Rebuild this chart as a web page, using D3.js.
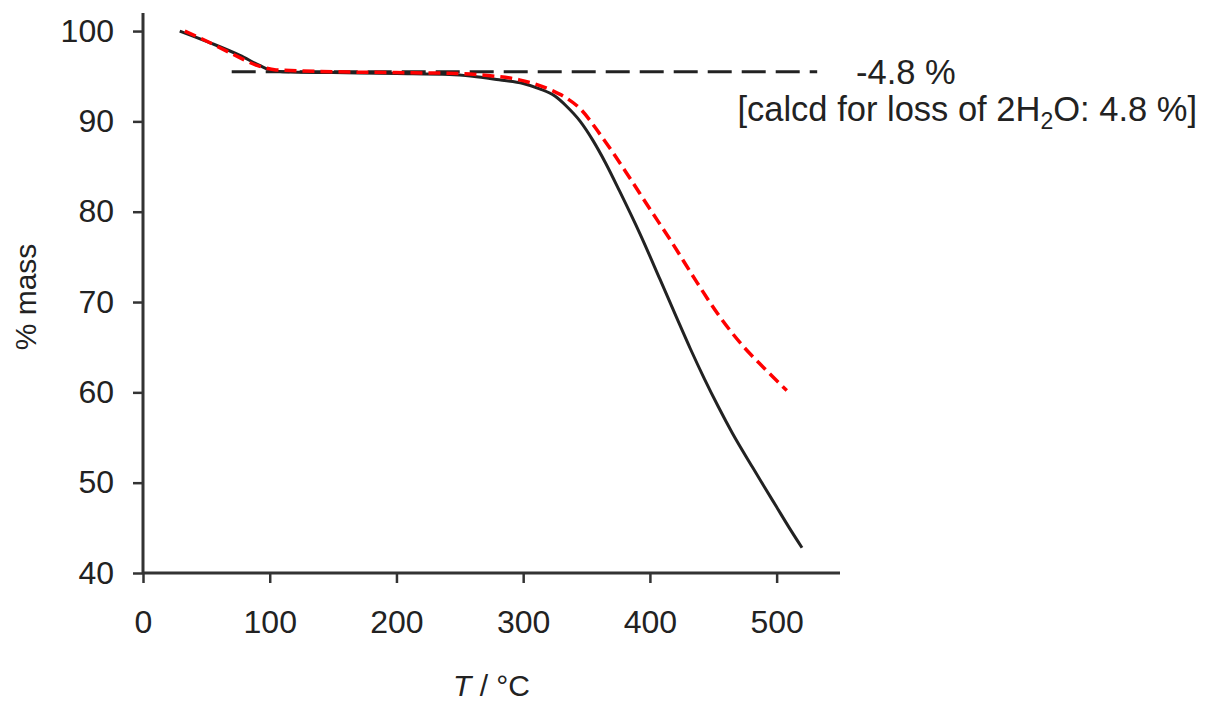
<!DOCTYPE html>
<html>
<head>
<meta charset="utf-8">
<script src="https://cdn.jsdelivr.net/npm/d3@7"></script>
<style>
  body { margin: 0; background: #fff; }
  text { font-family: "Liberation Sans", Arial, sans-serif; fill: #222; }
</style>
</head>
<body>
<script>
const width = 1208, height = 701;

// measured sample (black, solid)
const sampleT = [29, 53, 76.5, 92, 100, 110, 150, 200, 242, 260, 281, 300, 313, 325, 334, 345, 355, 365, 376, 392, 408, 421, 432, 443, 454, 465, 481, 490, 500, 510, 520];
const sampleMass = [100.0, 98.7, 97.3, 96.2, 95.7, 95.5, 95.4, 95.3, 95.2, 95.0, 94.6, 94.2, 93.6, 92.8, 91.7, 90.0, 87.9, 85.4, 82.3, 77.6, 72.5, 68.3, 64.8, 61.5, 58.4, 55.5, 51.7, 49.6, 47.3, 45.0, 42.8];

// second trace (red, dashed)
const refT = [33, 50, 70, 90, 105, 150, 200, 250, 270, 297, 323, 334, 345, 360, 381, 400, 416, 437, 455, 473, 490, 508];
const refMass = [100.0, 98.9, 97.5, 96.2, 95.7, 95.5, 95.4, 95.3, 95.1, 94.6, 93.4, 92.6, 91.4, 88.7, 84.4, 80.3, 76.9, 72.2, 68.4, 65.2, 62.7, 60.2];

// plateau guide line
const plateauT = [70, 532];
const plateauMass = 95.5;

const xTicks = [0, 100, 200, 300, 400, 500];
const yTicks = [40, 50, 60, 70, 80, 90, 100];

const svg = d3.select("body").append("svg").attr("width", width).attr("height", height);

const x = d3.scaleLinear().domain([0, 550]).range([143, 840]);
const y = d3.scaleLinear().domain([40, 102]).range([573, 13]);

const line = d3.line().x(d => x(d[0])).y(d => y(d[1])).curve(d3.curveMonotoneX);

// axes
const xAxis = svg.append("g").attr("transform", `translate(0,${y(40)})`)
    .call(d3.axisBottom(x).tickValues(xTicks).tickSize(10).tickPadding(27).tickFormat(d3.format("d")));
const yAxis = svg.append("g").attr("transform", `translate(${x(0)},0)`)
    .call(d3.axisLeft(y).tickValues(yTicks).tickSize(10).tickPadding(19).tickFormat(d3.format("d")));

[xAxis, yAxis].forEach(g => {
    g.select(".domain").attr("stroke", "#333").attr("stroke-width", 3);
    g.selectAll(".tick line").attr("stroke", "#333").attr("stroke-width", 2.5);
    g.selectAll(".tick text").attr("font-size", 32).attr("fill", "#222")
        .style("font-family", "'Liberation Sans', Arial, sans-serif");
});
// axis lines without end caps
xAxis.select(".domain").attr("d", `M${x(0)},0H${x(550)}`);
yAxis.select(".domain").attr("d", `M0,${y(40)}V${y(102)}`);

// plateau dashed line
svg.append("line")
    .attr("x1", x(plateauT[0])).attr("x2", x(plateauT[1]))
    .attr("y1", y(plateauMass)).attr("y2", y(plateauMass))
    .attr("stroke", "#222").attr("stroke-width", 3).attr("stroke-dasharray", "24,10");

// curves
svg.append("path")
    .datum(d3.zip(sampleT, sampleMass))
    .attr("d", line)
    .attr("fill", "none").attr("stroke", "#222").attr("stroke-width", 3);

svg.append("path")
    .datum(d3.zip(refT, refMass))
    .attr("d", line)
    .attr("fill", "none").attr("stroke", "#ff0000").attr("stroke-width", 3.5)
    .attr("stroke-dasharray", "12,6");

// annotation
svg.append("text").attr("x", 856).attr("y", 84).attr("font-size", 34.5).text("-4.8 %");
const note = svg.append("text").attr("x", 1197).attr("y", 121).attr("font-size", 34.5).attr("text-anchor", "end");
note.append("tspan").text("[calcd for loss of 2H");
note.append("tspan").attr("font-size", 23).attr("dy", 8).text("2");
note.append("tspan").attr("dy", -8).text("O: 4.8 %]");

// axis titles
const xt = svg.append("text").attr("x", (x(0) + x(550)) / 2).attr("y", 696)
    .attr("font-size", 30).attr("text-anchor", "middle");
xt.append("tspan").attr("font-style", "italic").text("T");
xt.append("tspan").text(" / °C");

svg.append("text").attr("transform", "translate(36,297) rotate(-90)")
    .attr("font-size", 30).attr("text-anchor", "middle").text("% mass");
</script>
</body>
</html>
